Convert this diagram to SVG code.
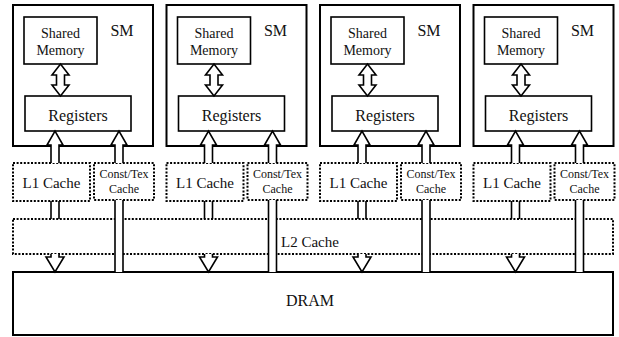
<svg xmlns="http://www.w3.org/2000/svg" width="619" height="337" viewBox="0 0 619 337">
<style>
.sm{fill:#fff;stroke:#000;stroke-width:2}
.box{fill:#fff;stroke:#000;stroke-width:1.6}
.dot{fill:#fff;stroke:#000;stroke-width:2;stroke-dasharray:2 1.6}
.arr{fill:#fff;stroke:#000;stroke-width:1.6;stroke-linejoin:miter}
.ln{fill:none;stroke:#000;stroke-width:1.6}
.lbl{font-family:"Liberation Serif","Times New Roman",serif;fill:#111;text-anchor:middle}
.t16{font-size:16px}.t14{font-size:14px}.t15{font-size:15px}.t12{font-size:12px}
</style>
<g id="dram">
<rect class="sm" x="13" y="272" width="600" height="63"/>
<text class="lbl t16" x="310" y="306">DRAM</text>
</g>
<g id="l2">
<rect class="dot" x="13" y="219" width="600" height="35"/>
<text class="lbl t15" x="310" y="247">L2 Cache</text>
</g>
<g id="sm1">
<rect class="sm" x="13" y="5" width="140" height="141"/>
<rect class="box" x="24" y="17" width="73" height="47"/>
<text class="lbl t14" x="60.5" y="38">Shared</text>
<text class="lbl t14" x="60.5" y="55">Memory</text>
<text class="lbl t16" x="122" y="36" fill="#333">SM</text>
<rect class="box" x="25" y="96" width="106" height="35"/>
<text class="lbl t16" x="78" y="121">Registers</text>
</g>
<g id="sm2">
<rect class="sm" x="166.5" y="5" width="140" height="141"/>
<rect class="box" x="177.5" y="17" width="73" height="47"/>
<text class="lbl t14" x="214" y="38">Shared</text>
<text class="lbl t14" x="214" y="55">Memory</text>
<text class="lbl t16" x="275.5" y="36" fill="#333">SM</text>
<rect class="box" x="178.5" y="96" width="106" height="35"/>
<text class="lbl t16" x="231.5" y="121">Registers</text>
</g>
<g id="sm3">
<rect class="sm" x="320" y="5" width="140" height="141"/>
<rect class="box" x="331" y="17" width="73" height="47"/>
<text class="lbl t14" x="367.5" y="38">Shared</text>
<text class="lbl t14" x="367.5" y="55">Memory</text>
<text class="lbl t16" x="429" y="36" fill="#333">SM</text>
<rect class="box" x="332" y="96" width="106" height="35"/>
<text class="lbl t16" x="385" y="121">Registers</text>
</g>
<g id="sm4">
<rect class="sm" x="473.5" y="5" width="140" height="141"/>
<rect class="box" x="484.5" y="17" width="73" height="47"/>
<text class="lbl t14" x="521" y="38">Shared</text>
<text class="lbl t14" x="521" y="55">Memory</text>
<text class="lbl t16" x="582.5" y="36" fill="#333">SM</text>
<rect class="box" x="485.5" y="96" width="106" height="35"/>
<text class="lbl t16" x="538.5" y="121">Registers</text>
</g>
<g id="l1-1"><rect class="dot" x="13" y="163" width="77" height="38"/><text class="lbl t15" x="51.5" y="188">L1 Cache</text></g>
<g id="l1-2"><rect class="dot" x="166.5" y="163" width="77" height="38"/><text class="lbl t15" x="205" y="188">L1 Cache</text></g>
<g id="l1-3"><rect class="dot" x="320" y="163" width="77" height="38"/><text class="lbl t15" x="358.5" y="188">L1 Cache</text></g>
<g id="l1-4"><rect class="dot" x="473.5" y="163" width="77" height="38"/><text class="lbl t15" x="512" y="188">L1 Cache</text></g>
<g id="ct-1"><rect class="dot" x="94" y="163" width="60" height="37"/><text class="lbl t12" x="124" y="178">Const/Tex</text><text class="lbl t12" x="124" y="193">Cache</text></g>
<g id="ct-2"><rect class="dot" x="247.5" y="163" width="60" height="37"/><text class="lbl t12" x="277.5" y="178">Const/Tex</text><text class="lbl t12" x="277.5" y="193">Cache</text></g>
<g id="ct-3"><rect class="dot" x="401" y="163" width="60" height="37"/><text class="lbl t12" x="431" y="178">Const/Tex</text><text class="lbl t12" x="431" y="193">Cache</text></g>
<g id="ct-4"><rect class="dot" x="554.5" y="163" width="60" height="37"/><text class="lbl t12" x="584.5" y="178">Const/Tex</text><text class="lbl t12" x="584.5" y="193">Cache</text></g>
<defs>
<g id="arrows">
<path class="arr" d="M56.5,75 H52 L60.5,64 L69,75 H64.5 V85 H69 L60.5,96 L52,85 H56.5 Z"/>
<path class="arr" d="M51,163 V145 H47 L55,131 L63,145 H59 V163"/>
<path class="arr" d="M115,163 V145 H111 L119,131 L127,145 H123 V163"/>
<rect x="115" y="200" width="8" height="72" fill="#fff"/>
<path class="ln" d="M115,200 V272 M123,200 V272"/>
<path class="ln" d="M51,201 V219 M59,201 V219"/>
<path class="arr" d="M51,254 V257 H46 L55,272 L64,257 H59 V254"/>
</g>
</defs>
<g id="connectors">
<use href="#arrows"/>
<use href="#arrows" transform="translate(153.5,0)"/>
<use href="#arrows" transform="translate(307,0)"/>
<use href="#arrows" transform="translate(460.5,0)"/>
</g>
</svg>
